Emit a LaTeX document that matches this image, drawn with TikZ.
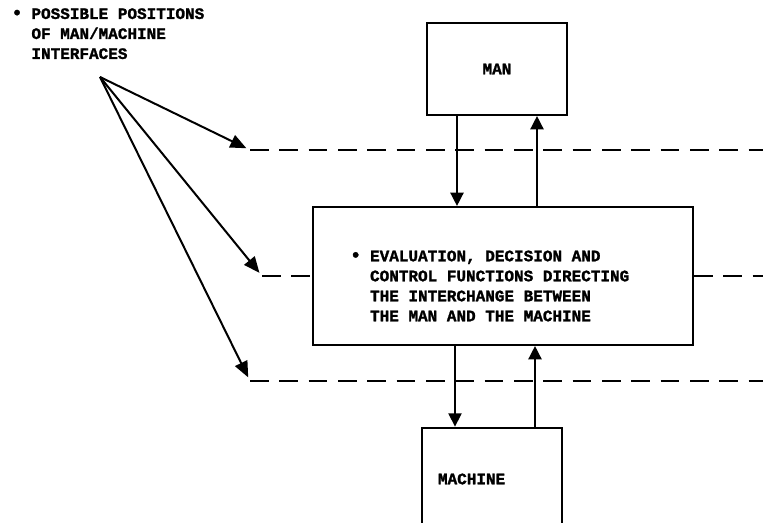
\documentclass[tikz,border=0pt]{standalone}
\usepackage{fontspec}
\setmonofont{Liberation Mono}[BoldFeatures={FakeBold=1.5}]
\usetikzlibrary{arrows.meta}
\newcommand{\dotmark}{\makebox[7.2pt]{\Large\textbullet}}

\begin{document}
\begin{tikzpicture}[x=0.75pt,y=-0.75pt,
	txt/.style={font=\ttfamily\bfseries\fontsize{12}{15}\selectfont,align=left},
	box/.style={draw,txt,line width=1.6pt},
	flow/.style={line width=1.1pt,-{Triangle[width=10pt,length=10pt]}},
	pointer/.style={line width=1.5pt,shorten >=3pt,-{Triangle[width=10pt,length=12pt]}},
	iface/.style={line width=1.9pt,dash pattern=on 14pt off 8pt}]
	\clip (0,0) rectangle (763,523);
	\node[box,minimum width=105pt,minimum height=69pt](man) at (497,69){MAN};
	\node[box,minimum width=285pt,minimum height=103.5pt](ctrl) at (503,276){};
	\node[txt,anchor=west,inner sep=0pt](func) at ([xshift=29pt,yshift=-7.5pt]ctrl.west){\dotmark\ EVALUATION, DECISION AND\\\phantom{\dotmark\ }CONTROL FUNCTIONS DIRECTING\\\phantom{\dotmark\ }THE INTERCHANGE BETWEEN\\\phantom{\dotmark\ }THE MAN AND THE MACHINE};
	\node[box,minimum width=105pt,minimum height=77pt,text width=81pt,inner xsep=12pt](mach) at (492,479){MACHINE};
	\node[txt,anchor=north west,inner sep=0pt](note) at (12,8){\dotmark\ POSSIBLE POSITIONS\\\phantom{\dotmark\ }OF MAN/MACHINE\\\phantom{\dotmark\ }INTERFACES};
	% interface lines
	\coordinate(fan) at (100,77);
	\coordinate(t1) at (250,150);
	\coordinate(t2) at (262,276);
	\coordinate(t3) at (250,381);
	\coordinate(e1) at (763,150);
	\coordinate(e2) at (763,276);
	\coordinate(e3) at (763,381);
	\draw[iface](t1)--(e1);
	\draw[iface](t2)--(ctrl.west);
	\draw[iface](ctrl.east)--(e2);
	\draw[iface](t3)--(e3);
	\draw[pointer](fan)--(t1);
	\draw[pointer](fan)--(t2);
	\draw[pointer](fan)--(t3);
	% man / machine exchange
	\coordinate(d1) at (457,0);
	\coordinate(u1) at (537,0);
	\coordinate(d2) at (455,0);
	\coordinate(u2) at (535,0);
	\draw[flow](man.south -| d1)--(ctrl.north -| d1);
	\draw[flow](ctrl.north -| u1)--(man.south -| u1);
	\draw[flow](ctrl.south -| d2)--(mach.north -| d2);
	\draw[flow](mach.north -| u2)--(ctrl.south -| u2);
\end{tikzpicture}
\end{document}
